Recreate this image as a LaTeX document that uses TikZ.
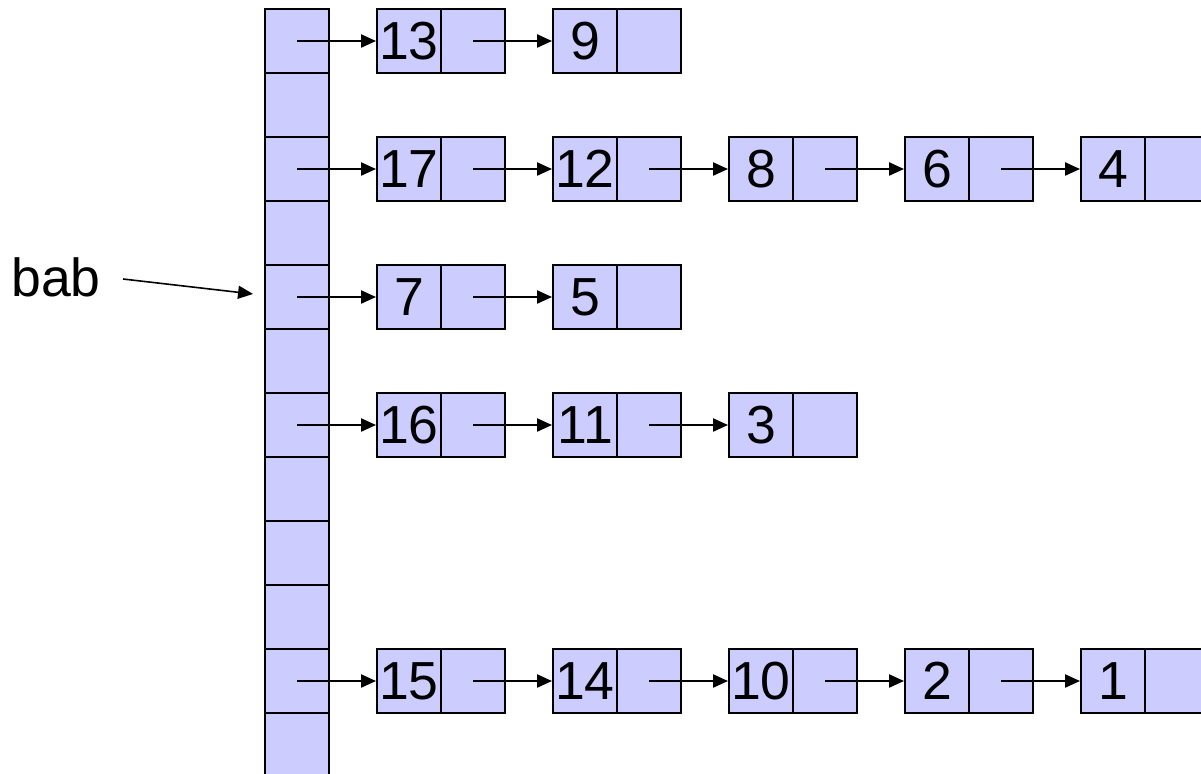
\documentclass[tikz,border=0pt]{standalone}
\usepackage{fontspec}
\setmainfont{Liberation Sans}
\usetikzlibrary{arrows.meta}

\begin{document}
\begin{tikzpicture}[x=0.02cm, y=-0.02cm]
    \tikzset{cell/.style={rectangle, draw=black, line width=1.1pt, fill={rgb,255:red,204;green,204;blue,255}, minimum width=1.28cm, minimum height=1.28cm, inner sep=0pt, font=\fontsize{30.5}{32}\selectfont}};
    \tikzset{ptr/.style={line width=1.1pt, -{Triangle[length=8.5pt, width=7.4pt]}}};
%%
\useasboundingbox (0,0) rectangle (1201,774);
\clip (0,0) rectangle (1201,774);
  % the array
  \node (a0) at (297,41) [cell] {};
  \node (a1) at (297,105) [cell] {};
  \node (a2) at (297,169) [cell] {};
  \node (a3) at (297,233) [cell] {};
  \node (a4) at (297,297) [cell] {};
  \node (a5) at (297,361) [cell] {};
  \node (a6) at (297,425) [cell] {};
  \node (a7) at (297,489) [cell] {};
  \node (a8) at (297,553) [cell] {};
  \node (a9) at (297,617) [cell] {};
  \node (a10) at (297,681) [cell] {};
  \node (a11) at (297,745) [cell] {};

  % the lists
  \node (k13) at (409,41) [cell] {13};
  \node (p13) at (473,41) [cell] {};
  \node (k9) at (585,41) [cell] {9};
  \node (p9) at (649,41) [cell] {};

  \node (k17) at (409,169) [cell] {17};
  \node (p17) at (473,169) [cell] {};
  \node (k12) at (585,169) [cell] {12};
  \node (p12) at (649,169) [cell] {};
  \node (k8) at (761,169) [cell] {8};
  \node (p8) at (825,169) [cell] {};
  \node (k6) at (937,169) [cell] {6};
  \node (p6) at (1001,169) [cell] {};
  \node (k4) at (1113,169) [cell] {4};
  \node (p4) at (1177,169) [cell] {};

  \node (k7) at (409,297) [cell] {7};
  \node (p7) at (473,297) [cell] {};
  \node (k5) at (585,297) [cell] {5};
  \node (p5) at (649,297) [cell] {};

  \node (k16) at (409,425) [cell] {16};
  \node (p16) at (473,425) [cell] {};
  \node (k11) at (585,425) [cell] {11};
  \node (p11) at (649,425) [cell] {};
  \node (k3) at (761,425) [cell] {3};
  \node (p3) at (825,425) [cell] {};

  \node (k15) at (409,681) [cell] {15};
  \node (p15) at (473,681) [cell] {};
  \node (k14) at (585,681) [cell] {14};
  \node (p14) at (649,681) [cell] {};
  \node (k10) at (761,681) [cell] {10};
  \node (p10) at (825,681) [cell] {};
  \node (k2) at (937,681) [cell] {2};
  \node (p2) at (1001,681) [cell] {};
  \node (k1) at (1113,681) [cell] {1};
  \node (p1) at (1177,681) [cell] {};

  \node (bab) at (56,277) [font=\fontsize{30.5}{32}\selectfont] {bab};
  \coordinate (babfrom) at (123,279);
  \coordinate (babto) at (253,294);

  \draw [ptr] (a0.center) -- (k13.west);
  \draw [ptr] (p13.center) -- (k9.west);

  \draw [ptr] (a2.center) -- (k17.west);
  \draw [ptr] (p17.center) -- (k12.west);
  \draw [ptr] (p12.center) -- (k8.west);
  \draw [ptr] (p8.center) -- (k6.west);
  \draw [ptr] (p6.center) -- (k4.west);

  \draw [ptr] (a4.center) -- (k7.west);
  \draw [ptr] (p7.center) -- (k5.west);

  \draw [ptr] (a6.center) -- (k16.west);
  \draw [ptr] (p16.center) -- (k11.west);
  \draw [ptr] (p11.center) -- (k3.west);

  \draw [ptr] (a10.center) -- (k15.west);
  \draw [ptr] (p15.center) -- (k14.west);
  \draw [ptr] (p14.center) -- (k10.west);
  \draw [ptr] (p10.center) -- (k2.west);
  \draw [ptr] (p2.center) -- (k1.west);

  \draw [ptr, line width=0.9pt] (babfrom) -- (babto);
\end{tikzpicture}
\end{document}
